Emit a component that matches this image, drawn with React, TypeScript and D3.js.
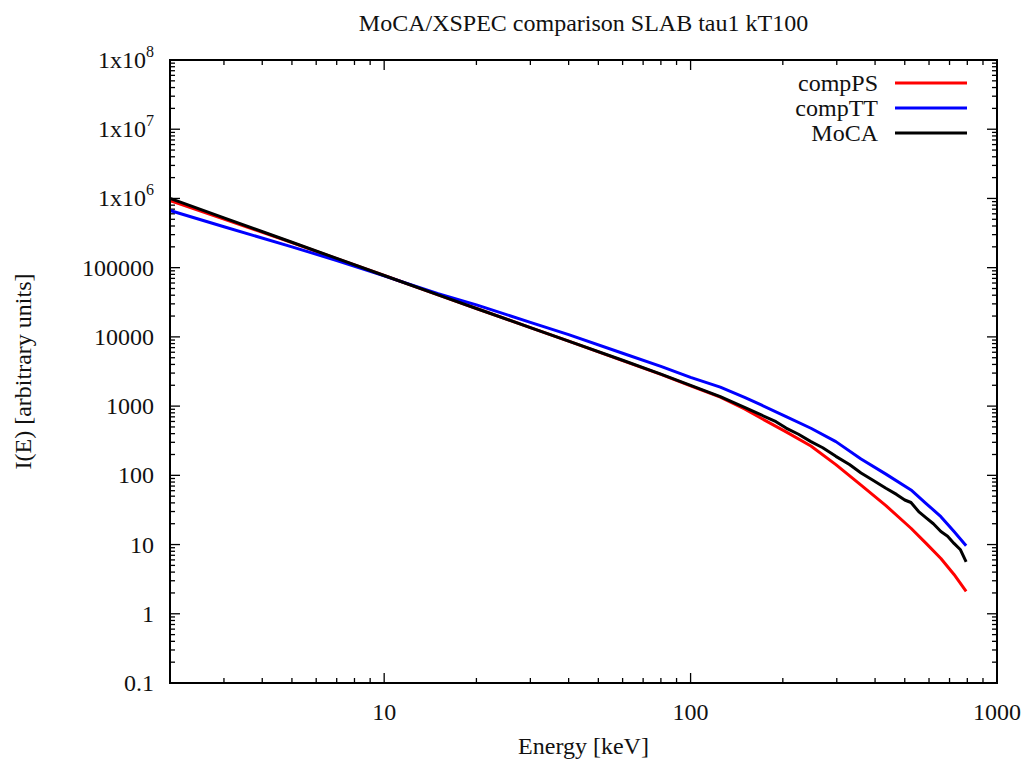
import React from "react";
import * as d3 from "d3";

const title = "MoCA/XSPEC comparison SLAB tau1 kT100";
const xLabel = "Energy [keV]";
const yLabel = "I(E) [arbitrary units]";

const seriesNames = ["compPS", "compTT", "MoCA"];
const seriesColors = ["#ff0000", "#0000ff", "#000000"];

const compPSEnergy = [2, 3, 5, 7, 10, 15, 20, 30, 40, 60, 80, 100, 125, 150, 170, 205, 247, 298, 360, 434, 524, 586, 656, 724, 793];
const compPSValue = [9.3e5, 5.05e5, 2.3e5, 1.35e5, 7.7e4, 4.05e4, 2.57e4, 1.36e4, 8.7e3, 4.55e3, 2.87e3, 1.96e3, 1.35e3, 910, 668, 425, 265, 143, 72, 36.5, 17.2, 10.5, 6.3, 3.7, 2.1];

const compTTEnergy = [2, 3, 5, 7, 10, 15, 20, 30, 40, 60, 80, 100, 125, 150, 170, 205, 247, 298, 360, 434, 524, 586, 656, 724, 793];
const compTTValue = [6.7e5, 3.9e5, 2.0e5, 1.27e5, 7.6e4, 4.2e4, 2.9e4, 1.62e4, 1.08e4, 5.8e3, 3.75e3, 2.6e3, 1.88e3, 1.34e3, 1040, 706, 479, 307, 172, 104, 61.5, 39.5, 25.3, 15.4, 9.6];

const mocaEnergy = [2, 3, 5, 7, 10, 15, 20, 30, 40, 60, 80, 100, 125, 150, 170, 190, 205, 225, 247, 270, 298, 330, 360, 395, 434, 470, 500, 524, 555, 586, 620, 656, 690, 724, 760, 793];
const mocaValue = [1.0e6, 5.25e5, 2.33e5, 1.36e5, 7.7e4, 4.05e4, 2.57e4, 1.36e4, 8.7e3, 4.6e3, 2.9e3, 1.99e3, 1.37e3, 960, 746, 595, 482, 392, 307, 250, 188, 143, 108, 84, 65, 53, 44, 40.5, 30, 24.5, 20, 15.4, 13.2, 10.4, 8.4, 5.6];

const xTickValues = [10, 100, 1000];
const xTickLabels = ["10", "100", "1000"];
const yTickValues = [0.1, 1, 10, 100, 1000, 10000, 100000, 1e6, 1e7, 1e8];
const yTickLabels = ["0.1", "1", "10", "100", "1000", "10000", "100000", "1x10^6", "1x10^7", "1x10^8"];

const W = 1029;
const H = 764;
const L = 170, R = 997, T = 60, B = 683;
const FONT = "'Liberation Serif', 'Times New Roman', serif";
const FS = 24;

export default function App() {
  const x = d3.scaleLog().domain([2, 1000]).range([L, R]);
  const y = d3.scaleLog().domain([0.1, 1e8]).range([B, T]);

  const line = d3
    .line<[number, number]>()
    .x((d) => x(d[0]))
    .y((d) => y(d[1]));

  const series = [
    { e: compPSEnergy, v: compPSValue },
    { e: compTTEnergy, v: compTTValue },
    { e: mocaEnergy, v: mocaValue },
  ];

  const xMinor: number[] = [];
  for (let dec = 1; dec <= 100; dec *= 10) {
    for (let m = 2; m <= 9; m++) {
      const v = m * dec;
      if (v > 2 && v < 1000) xMinor.push(v);
    }
  }
  const yMinor: number[] = [];
  for (let dec = 0.1; dec < 1e8; dec *= 10) {
    for (let m = 2; m <= 9; m++) yMinor.push(m * dec);
  }
  const major = 10;
  const minor = 5;

  const renderYLabel = (s: string) => {
    if (s.includes("^")) {
      const [base, exp] = s.split("^");
      return (
        <>
          <tspan>{base}</tspan>
          <tspan dy={-11} fontSize={16}>{exp}</tspan>
        </>
      );
    }
    return s;
  };

  return (
    <svg
      width={W}
      height={H}
      style={{ position: "absolute", left: 0, top: 0, background: "#fff" }}
      fontFamily={FONT}
    >
      <rect x={0} y={0} width={W} height={H} fill="#fff" />
      <text x={(L + R) / 2} y={31} textAnchor="middle" fontSize={FS} fill="#111">
        {title}
      </text>

      <g stroke="#000" strokeWidth={1.3}>
        {xTickValues.map((v) => (
          <g key={"xt" + v}>
            <line x1={x(v)} x2={x(v)} y1={B} y2={B - major} />
            <line x1={x(v)} x2={x(v)} y1={T} y2={T + major} />
          </g>
        ))}
        {xMinor.map((v) => (
          <g key={"xm" + v}>
            <line x1={x(v)} x2={x(v)} y1={B} y2={B - minor} />
            <line x1={x(v)} x2={x(v)} y1={T} y2={T + minor} />
          </g>
        ))}
        {yTickValues.map((v) => (
          <g key={"yt" + v}>
            <line x1={L} x2={L + major} y1={y(v)} y2={y(v)} />
            <line x1={R} x2={R - major} y1={y(v)} y2={y(v)} />
          </g>
        ))}
        {yMinor.map((v, i) => (
          <g key={"ym" + i}>
            <line x1={L} x2={L + minor} y1={y(v)} y2={y(v)} />
            <line x1={R} x2={R - minor} y1={y(v)} y2={y(v)} />
          </g>
        ))}
      </g>

      <g fontSize={FS} fill="#111">
        {xTickValues.map((v, i) => (
          <text key={"xl" + v} x={x(v)} y={B + 37} textAnchor="middle">
            {xTickLabels[i]}
          </text>
        ))}
        {yTickValues.map((v, i) => (
          <text key={"yl" + v} x={L - 16} y={y(v) + 8} textAnchor="end">
            {renderYLabel(yTickLabels[i])}
          </text>
        ))}
      </g>

      <text x={(L + R) / 2} y={754} textAnchor="middle" fontSize={FS} fill="#111">
        {xLabel}
      </text>
      <text
        transform={`translate(31, ${(T + B) / 2}) rotate(-90)`}
        textAnchor="middle"
        fontSize={FS}
        fill="#111"
      >
        {yLabel}
      </text>

      <g fill="none" strokeWidth={3} strokeLinejoin="round">
        {series.map((s, i) => (
          <path
            key={seriesNames[i]}
            d={line(s.e.map((e, j) => [e, s.v[j]] as [number, number])) || ""}
            stroke={seriesColors[i]}
          />
        ))}
      </g>

      <g fontSize={FS} fill="#111">
        {seriesNames.map((n, i) => (
          <g key={"lg" + n}>
            <text x={878} y={91 + i * 25} textAnchor="end">
              {n}
            </text>
            <line x1={895} x2={967} y1={83 + i * 25} y2={83 + i * 25} stroke={seriesColors[i]} strokeWidth={3} />
          </g>
        ))}
      </g>

      <rect x={L} y={T} width={R - L} height={B - T} fill="none" stroke="#000" strokeWidth={2} />
    </svg>
  );
}
